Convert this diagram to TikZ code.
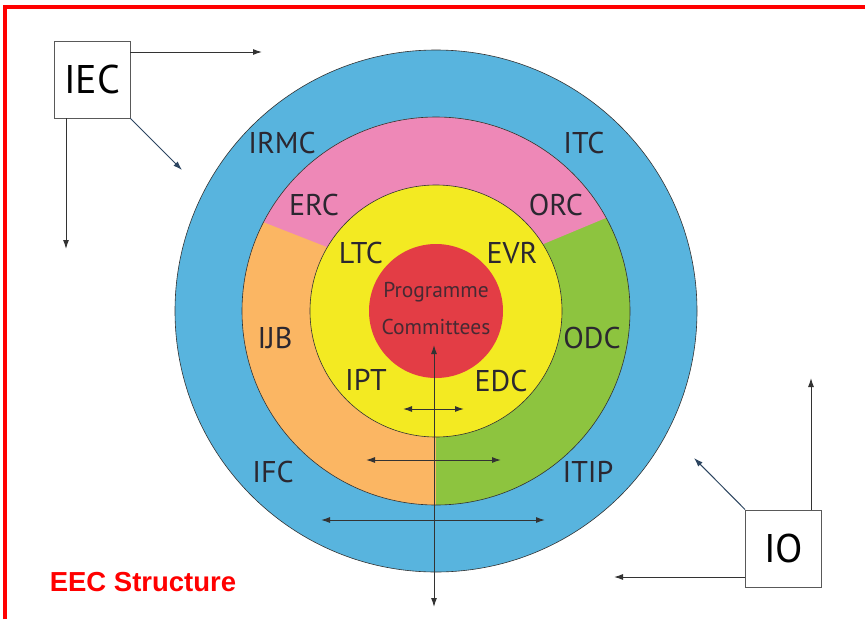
\documentclass[tikz,border=0pt]{standalone}
\usepackage{fontspec}
\setmainfont{PT Sans}
\newfontfamily\titlefont{Liberation Sans}
\usetikzlibrary{arrows.meta}

\definecolor{ringblue}{HTML}{58B4DE}
\definecolor{ringpink}{HTML}{EE88B7}
\definecolor{ringorange}{HTML}{FBB663}
\definecolor{ringgreen}{HTML}{8DC43F}
\definecolor{ringyellow}{HTML}{F3EA22}
\definecolor{corered}{HTML}{E33D45}
\definecolor{labelink}{HTML}{2B2730}
\definecolor{arrowgray}{HTML}{333333}
\definecolor{arrowslate}{HTML}{2C4560}
\definecolor{framered}{HTML}{FF0000}

\tikzset{
  ringline/.style={draw=black!80, line width=0.6pt},
  ringlabel/.style={text=labelink, inner sep=0pt, font=\fontsize{30}{36}\selectfont},
  corelabel/.style={text=labelink!85!corered, inner sep=0pt, font=\fontsize{21.5}{25}\selectfont},
  bodybox/.style={draw=black!65, line width=0.8pt, fill=white, inner sep=0pt,
    minimum width=76pt, minimum height=77pt, text=black, font=\fontsize{40}{48}\selectfont},
  arr/.style={draw=arrowgray, line width=1pt, -{Latex[length=9pt,width=6pt]}},
  dblarr/.style={draw=arrowgray, line width=1pt, {Latex[length=9pt,width=6pt]}-{Latex[length=9pt,width=6pt]}}
}

\begin{document}
\begin{tikzpicture}[x=1pt, y=-1pt]
\useasboundingbox (0,0) rectangle (865,619);
\fill[white] (0,0) rectangle (865,619);

% frame along the top and left edges
\draw[framered, line width=4pt] (5,619) -- (5,7) -- (865,7);

% ---- concentric rings ----
\begin{scope}[shift={(436,311)}]
  \filldraw[fill=ringblue, ringline] (0,0) circle[radius=261];
  % lower-left and lower-right halves of the second ring
  \fill[ringorange] (0,0) -- (0,-194) arc[start angle=-90, end angle=-270, radius=194] -- cycle;
  \fill[ringgreen] (0,0) -- (0,-194) arc[start angle=-90, end angle=90, radius=194] -- cycle;
\end{scope}
\begin{scope}
  \clip (436,311) circle[radius=194];
  \fill[ringpink] (179,189) -- (401,276) -- (457,280) -- (697,180) -- (697,100) -- (179,100) -- cycle;
\end{scope}
\draw[ringline] (436,311) circle[radius=194];
\filldraw[fill=ringyellow, ringline] (436,311) circle[radius=126];
\fill[corered] (436,311) circle[radius=67];

% ---- ring labels ----
\node[ringlabel] (irmc) at (282,143) {IRMC};
\node[ringlabel] (itc)  at (584,143) {ITC};
\node[ringlabel] (erc)  at (314,205) {ERC};
\node[ringlabel] (orc)  at (556,205) {ORC};
\node[ringlabel] (ijb)  at (275,338) {IJB};
\node[ringlabel] (odc)  at (592,338) {ODC};
\node[ringlabel] (ifc)  at (273,472) {IFC};
\node[ringlabel] (itip) at (588,472) {ITIP};
\node[ringlabel] (ltc)  at (361,253) {LTC};
\node[ringlabel] (evr)  at (512,253) {EVR};
\node[ringlabel] (ipt)  at (366,380) {IPT};
\node[ringlabel] (edc)  at (501,381) {EDC};
\node[corelabel] (prog) at (436,292) {Programme};
\node[corelabel] (comm) at (436,327) {Committees};

% ---- arrows through the rings ----
\coordinate (vtop) at (434,345);
\coordinate (vbot) at (434,607);
\draw[dblarr] (vtop) -- (vbot);
\coordinate (h1l) at (403,409);
\coordinate (h1r) at (464,409);
\draw[dblarr] (h1l) -- (h1r);
\coordinate (h2l) at (366,460);
\coordinate (h2r) at (501,460);
\draw[dblarr] (h2l) -- (h2r);
\coordinate (h3l) at (321,520);
\coordinate (h3r) at (545,520);
\draw[dblarr] (h3l) -- (h3r);

% ---- IEC box ----
\node[bodybox] (iec) at (92,79.5) {IEC};
\coordinate (iecR) at (262,52);
\coordinate (iecD) at (182,170);
\coordinate (iecS) at (66,249);
\draw[arr] (iec.east |- iecR) -- (iecR);
\draw[arr, draw=arrowslate] (iec.south east) -- (iecD);
\draw[arr] (iec.south -| iecS) -- (iecS);

% ---- IO box ----
\node[bodybox] (io) at (783.5,548.5) {IO};
\coordinate (ioU) at (811,378);
\coordinate (ioD) at (694,458);
\coordinate (ioL) at (614,577);
\draw[arr] (io.north -| ioU) -- (ioU);
\draw[arr, draw=arrowslate] (io.north west) -- (ioD);
\draw[arr] (io.west |- ioL) -- (ioL);

% ---- caption ----
\node[text=framered, inner sep=0pt, font=\titlefont\bfseries\fontsize{27.5}{32}\selectfont] (title) at (143,582) {EEC Structure};
\end{tikzpicture}
\end{document}
